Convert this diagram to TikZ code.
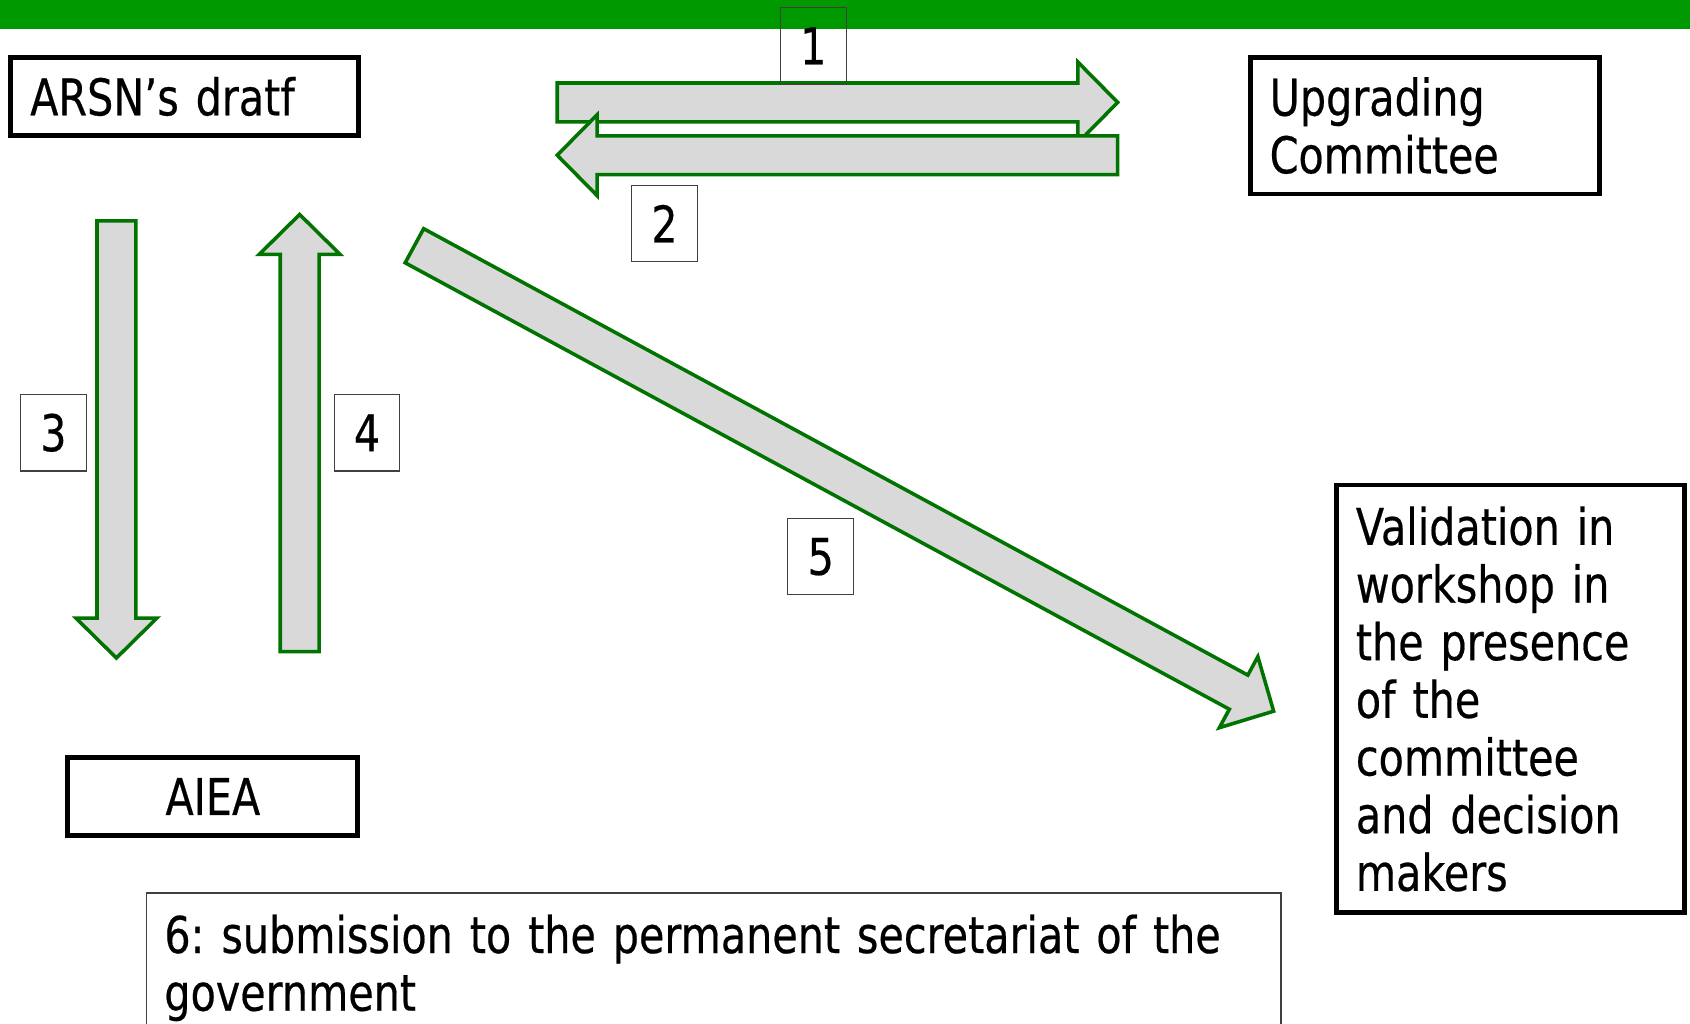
\documentclass[tikz,border=0pt]{standalone}
\usepackage{fontspec}
\setmainfont{DejaVu Sans}[FakeStretch=0.815, FakeBold=0.4]
\usetikzlibrary{calc}

\definecolor{bargreen}{RGB}{0,153,0}
\definecolor{arrowgreen}{RGB}{0,115,0}
\definecolor{arrowgrey}{RGB}{217,217,217}
\newcommand{\mainfs}{\fontsize{47pt}{53.5pt}\selectfont}
\frenchspacing

\tikzset{
  bigbox/.style={draw=black, line width=4.5pt, align=left, inner xsep=18pt, inner ysep=0pt, font=\mainfs},
  numbox/.style={draw=black!75, line width=1pt, minimum width=61pt, minimum height=71pt, inner sep=0pt, font=\mainfs},
  barrow/.style={draw=arrowgreen, fill=arrowgrey, line width=3.3pt},
}

% block arrow from #1 to #2
\newcommand{\blockarrow}[2]{%
  \draw[barrow] let \p1=($(#2)-(#1)$), \n1={atan2(\y1,\x1)}, \n2={veclen(\x1,\y1)} in
    [shift={(#1)}, rotate=\n1]
    (0pt,18pt) -- ({\n2-37pt},18pt) -- ({\n2-37pt},37.5pt) -- (\n2,0pt)
    -- ({\n2-37pt},-37.5pt) -- ({\n2-37pt},-18pt) -- (0pt,-18pt) -- cycle;
}

\begin{document}
\begin{tikzpicture}[x=1pt, y=-1pt]
  \clip (0,0) rectangle (1568,950);
  \fill[bargreen] (0,0) rectangle (1568,27);

  % arrows
  \coordinate (a1s) at (517,95);   \coordinate (a1e) at (1037,95);
  \coordinate (a2s) at (1037,144); \coordinate (a2e) at (517,144);
  \coordinate (a3s) at (108,205);  \coordinate (a3e) at (108,610.5);
  \coordinate (a4s) at (278,604.5); \coordinate (a4e) at (278,199);
  \coordinate (a5s) at (384.5,228); \coordinate (a5e) at (1182,660);
  \blockarrow{a1s}{a1e}
  \blockarrow{a2s}{a2e}
  \blockarrow{a3s}{a3e}
  \blockarrow{a4s}{a4e}
  \blockarrow{a5s}{a5e}

  % boxes
  \node[bigbox, text width=287pt, minimum height=73pt] (draft) at (171.5,89.5) {ARSN’s dratf};
  \node[bigbox, text width=288pt, minimum height=127pt] (upgrade) at (1322,116.5) {Upgrading\\Committee};
  \node[bigbox, text width=233pt, minimum height=72pt, align=center] (aiea) at (197.5,739) {AIEA};
  \node[bigbox, text width=287pt, minimum height=397pt] (valid) at (1401.5,648.5)
    {Validation in\\workshop in\\the presence\\of the\\committee\\and decision\\makers};
  \node[draw=black!75, line width=1pt, anchor=north west, text width=1019pt, inner xsep=17pt,
    inner ysep=20pt, align=left, font=\mainfs] (submit) at (135,828)
    {6: submission to the permanent secretariat of the\\government};

  % step numbers
  \node[numbox] (n1) at (754.5,42.5) {1};
  \node[numbox] (n2) at (616.5,207.5) {2};
  \node[numbox] (n3) at (49.5,401.5) {3};
  \node[numbox] (n4) at (340.5,401.5) {4};
  \node[numbox] (n5) at (761.5,516.5) {5};
\end{tikzpicture}
\end{document}
